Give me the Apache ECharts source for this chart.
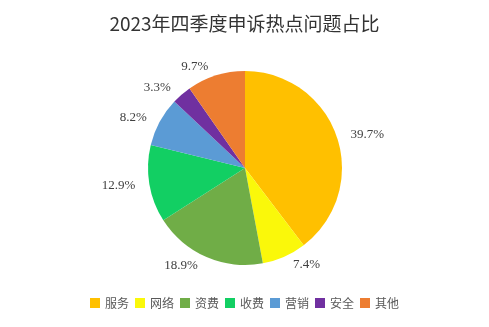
<!DOCTYPE html>
<html>
<head>
<meta charset="utf-8">
<script src="https://cdn.jsdelivr.net/npm/echarts@6/dist/echarts.min.js"></script>
<style>
html,body{margin:0;padding:0;background:#fff;}
#chart{width:489px;height:327px;}
</style>
</head>
<body>
<div id="chart"></div>
<script>
// Complaint categories and their share (%) for Q4 2023
const categories = ['服务', '网络', '资费', '收费', '营销', '安全', '其他'];
const shares = [39.7, 7.4, 18.9, 12.9, 8.2, 3.3, 9.7];
const colors = ['#FFC000', '#FAF80A', '#70AD47', '#12CF63', '#5B9BD5', '#7030A0', '#ED7D31'];

const chart = echarts.init(document.getElementById('chart'));
chart.setOption({
  animation: false,
  title: {
    text: '2023年四季度申诉热点问题占比',
    left: 'center',
    top: 9,
    textStyle: { fontFamily: 'Noto Sans CJK SC', fontSize: 19, fontWeight: 'normal', color: '#333' }
  },
  legend: {
    bottom: 13,
    left: 'center',
    itemWidth: 10,
    itemHeight: 10,
    itemGap: 6,
    icon: 'rect',
    textStyle: { fontFamily: 'Noto Sans CJK SC', fontSize: 12, color: '#595959' },
    data: categories
  },
  series: [{
    type: 'pie',
    center: [245, 168],
    radius: 97,
    startAngle: 90,
    clockwise: true,
    color: colors,
    label: {
      show: true,
      position: 'outside',
      formatter: p => p.value.toFixed(1) + '%',
      fontFamily: 'Liberation Serif',
      fontSize: 13,
      color: '#404040'
    },
    labelLine: { show: false, length: 9, length2: 0 },
    data: categories.map((c, i) => ({ name: c, value: shares[i] }))
  }]
});
</script>
</body>
</html>
